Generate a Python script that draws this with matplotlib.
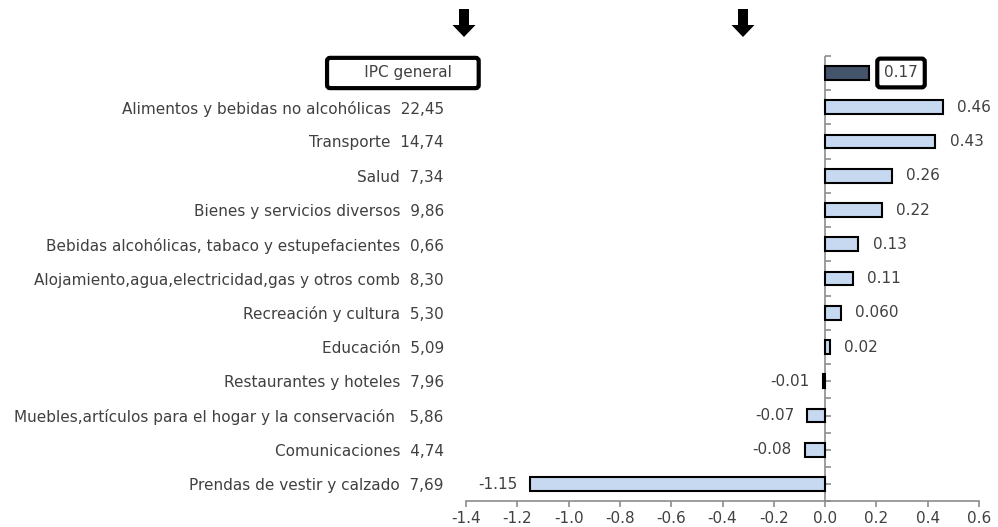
import matplotlib
matplotlib.use("Agg")
import matplotlib.pyplot as plt
from matplotlib.patches import FancyArrow
from matplotlib.transforms import IdentityTransform
import numpy as np

# categories (with weights) and monthly variation
categories = [
    "IPC general",
    "Alimentos y bebidas no alcohólicas  22,45",
    "Transporte  14,74",
    "Salud  7,34",
    "Bienes y servicios diversos  9,86",
    "Bebidas alcohólicas, tabaco y estupefacientes  0,66",
    "Alojamiento,agua,electricidad,gas y otros comb  8,30",
    "Recreación y cultura  5,30",
    "Educación  5,09",
    "Restaurantes y hoteles  7,96",
    "Muebles,artículos para el hogar y la conservación   5,86",
    "Comunicaciones  4,74",
    "Prendas de vestir y calzado  7,69",
]
values = [0.17, 0.46, 0.43, 0.26, 0.22, 0.13, 0.11, 0.060, 0.02, -0.01, -0.07, -0.08, -1.15]
value_labels = ["0.17", "0.46", "0.43", "0.26", "0.22", "0.13", "0.11", "0.060",
                "0.02", "-0.01", "-0.07", "-0.08", "-1.15"]
xticks = [-1.4, -1.2, -1.0, -0.8, -0.6, -0.4, -0.2, 0.0, 0.2, 0.4, 0.6]

plt.rcParams['font.family'] = ['DejaVu Sans']
txt_color = '#404040'
axis_gray = '#8c8c8c'
fs = 11

fig = plt.figure(figsize=(9.98, 5.27), dpi=100)
ax = fig.add_axes([0.467, 0.049, 0.514, 0.845])

y = np.arange(len(categories))
colors = ['#44546a'] + ['#c6d9f0'] * (len(categories) - 1)
ax.barh(y, values, height=0.4, color=colors, edgecolor='black', linewidth=1.5, zorder=3)

ax.set_ylim(len(categories) - 0.5, -0.5)
ax.set_xlim(-1.4, 0.6)
ax.set_xticks(xticks)
ax.set_xticklabels([f"{t:.1f}" for t in xticks], color=txt_color, fontsize=fs)
ax.set_yticks(y)
ax.set_yticklabels([""] + categories[1:], color=txt_color, fontsize=fs)
ax.tick_params(axis='y', length=0, pad=16)
ax.tick_params(axis='x', length=4, color=axis_gray, width=1.2, pad=3)

for s in ['top', 'right', 'left']:
    ax.spines[s].set_visible(False)
ax.spines['bottom'].set_color(axis_gray)
ax.spines['bottom'].set_linewidth(1.2)

# zero line with small ticks on its right side
ax.axvline(0, color=axis_gray, lw=1.2, zorder=2)
half = np.arange(-0.5, len(categories), 0.5)
ax.plot(np.zeros(len(half)), half, ls='none', marker=1, ms=4, mew=1.2,
        color=axis_gray, zorder=2, clip_on=False)

# value labels
for i, (v, lab) in enumerate(zip(values, value_labels)):
    if i == 0:
        ax.text(v + 0.06, i, lab, va='center', ha='left', color=txt_color, fontsize=fs,
                bbox=dict(boxstyle='round,pad=0.45,rounding_size=0.2', fc='white', ec='black', lw=3),
                zorder=4)
    elif v >= 0:
        ax.text(v + 0.055, i, lab, va='center', ha='left', color=txt_color, fontsize=fs)
    else:
        ax.text(v - 0.05, i, lab, va='center', ha='right', color=txt_color, fontsize=fs)

# boxed IPC general label
ax.annotate("      IPC general    ", xy=(0, 0), xycoords=('axes fraction', 'data'),
            xytext=(5, 0), textcoords='offset pixels', ha='right', va='center',
            color=txt_color, fontsize=fs, annotation_clip=False,
            bbox=dict(boxstyle='round,pad=0.5,rounding_size=0.2', fc='white', ec='black', lw=3))

# arrows at top (figure pixels)
for xp in [464, 743]:
    fig.add_artist(FancyArrow(xp, 527 - 9, 0, -28, width=10, head_width=23, head_length=12,
                              length_includes_head=True, fc='black', ec='black', lw=0,
                              transform=IdentityTransform()))

fig.savefig("out.png", dpi=100)
